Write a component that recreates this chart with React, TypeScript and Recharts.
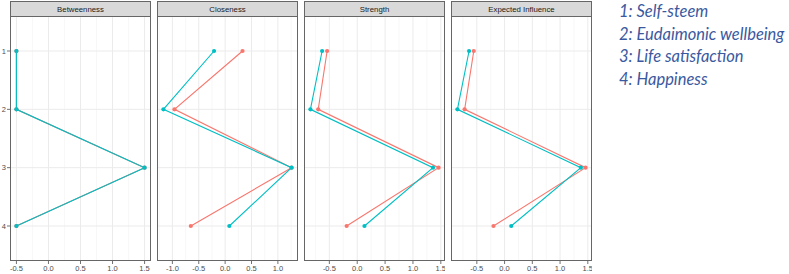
import React from "react";
import { ScatterChart, Scatter, XAxis, YAxis, ReferenceLine } from "recharts";

const nodes = [1, 2, 3, 4];
const legendLabels = ["1: Self-steem", "2: Eudaimonic wellbeing", "3: Life satisfaction", "4: Happiness"];
const measures = ["Betweenness", "Closeness", "Strength", "Expected Influence"];

const betweennessRed = [-0.5, -0.5, 1.5, -0.5];
const betweennessCyan = [-0.5, -0.5, 1.5, -0.5];
const closenessRed = [0.33, -0.96, 1.26, -0.65];
const closenessCyan = [-0.21, -1.17, 1.26, 0.08];
const strengthRed = [-0.54, -0.7, 1.46, -0.19];
const strengthCyan = [-0.63, -0.84, 1.36, 0.13];
const influenceRed = [-0.555, -0.72, 1.46, -0.2];
const influenceCyan = [-0.64, -0.85, 1.375, 0.12];

const betweennessTicks = [-0.5, 0, 0.5, 1, 1.5];
const closenessTicks = [-1, -0.5, 0, 0.5, 1];
const strengthTicks = [-0.5, 0, 0.5, 1, 1.5];
const influenceTicks = [-0.5, 0, 0.5, 1, 1.5];

const betweennessMinor = [-0.25, 0.25, 0.75, 1.25];
const closenessMinor = [-1.25, -0.75, -0.25, 0.25, 0.75, 1.25];
const strengthMinor = [-0.75, -0.25, 0.25, 0.75, 1.25];
const influenceMinor = [-0.75, -0.25, 0.25, 0.75, 1.25];

const betweennessDomain = [-0.6, 1.6];
const closenessDomain = [-1.2915, 1.3815];
const strengthDomain = [-0.955, 1.575];
const influenceDomain = [-0.9655, 1.5755];

const RED = "#F8766D";
const CYAN = "#00BFC4";
const FONT = "'Liberation Sans', Arial, sans-serif";

const toPoints = (vals: number[]) => vals.map((v, i) => ({ x: v, y: nodes[i] }));

const panels = [
  { title: measures[0], red: betweennessRed, cyan: betweennessCyan, ticks: betweennessTicks, minor: betweennessMinor, domain: betweennessDomain },
  { title: measures[1], red: closenessRed, cyan: closenessCyan, ticks: closenessTicks, minor: closenessMinor, domain: closenessDomain },
  { title: measures[2], red: strengthRed, cyan: strengthCyan, ticks: strengthTicks, minor: strengthMinor, domain: strengthDomain },
  { title: measures[3], red: influenceRed, cyan: influenceCyan, ticks: influenceTicks, minor: influenceMinor, domain: influenceDomain },
];

const PANEL_LEFTS = [10, 157, 304, 451];
const PANEL_W = 141;
const PLOT_TOP = 16;
const PLOT_BOTTOM = 261;
const Y_AXIS_W = 10;

const dot = (color: string, r: number) => (props: any) => (
  <circle cx={props.cx} cy={props.cy} r={r} fill={color} stroke="none" />
);

function Panel({ p, idx }: { p: any; idx: number }) {
  const left = PANEL_LEFTS[idx];
  const chartLeft = left - Y_AXIS_W;
  const chartH = 274 - PLOT_TOP;
  return (
    <>
      <div
        style={{
          position: "absolute",
          left: left,
          top: 1,
          width: PANEL_W,
          height: PLOT_TOP - 1,
          boxSizing: "border-box",
          background: "#D9D9D9",
          border: "1px solid #666",
          borderBottom: "none",
          fontFamily: FONT,
          fontSize: 7.8,
          color: "#1A1A1A",
          display: "flex",
          alignItems: "center",
          justifyContent: "center",
        }}
      >
        {p.title}
      </div>
      <div style={{ position: "absolute", left: chartLeft, top: PLOT_TOP }}>
        <ScatterChart width={PANEL_W + Y_AXIS_W} height={chartH} margin={{ top: 0, right: 0, bottom: 0, left: 0 }}>
          <XAxis
            type="number"
            dataKey="x"
            domain={p.domain}
            allowDataOverflow
            ticks={p.ticks}
            interval={0}
            height={chartH - (PLOT_BOTTOM - PLOT_TOP)}
            tickSize={3}
            tickMargin={2}
            tickFormatter={(v: number) => v.toFixed(1)}
            tick={{ fontSize: 7.5, fill: "#4D4D4D", fontFamily: FONT }}
            axisLine={false}
            tickLine={{ stroke: "#333", strokeWidth: 0.7 }}
          />
          <YAxis
            type="number"
            dataKey="y"
            domain={[0.4, 4.6]}
            reversed
            allowDataOverflow
            ticks={nodes}
            interval={0}
            width={Y_AXIS_W}
            tickSize={3}
            tickMargin={1}
            tick={idx === 0 ? { fontSize: 7.5, fill: "#4D4D4D", fontFamily: FONT } : false}
            axisLine={false}
            tickLine={idx === 0 ? { stroke: "#333", strokeWidth: 0.7 } : false}
          />
          {p.minor.map((m: number) => (
            <ReferenceLine key={"mn" + m} x={m} stroke="#F2F2F2" strokeWidth={0.6} />
          ))}
          {p.ticks.map((t: number) => (
            <ReferenceLine key={"mj" + t} x={t} stroke="#EBEBEB" strokeWidth={1} />
          ))}
          {nodes.map((n) => (
            <ReferenceLine key={"h" + n} y={n} stroke="#EBEBEB" strokeWidth={1} />
          ))}
          <Scatter
            data={toPoints(p.red)}
            line={{ stroke: RED, strokeWidth: 1.1 }}
            lineType="joint"
            shape={dot(RED, 2.1)}
            isAnimationActive={false}
          />
          <Scatter
            data={toPoints(p.cyan)}
            line={{ stroke: CYAN, strokeWidth: 1.1 }}
            lineType="joint"
            shape={dot(CYAN, 2.1)}
            isAnimationActive={false}
          />
        </ScatterChart>
      </div>
      <div
        style={{
          position: "absolute",
          left: left,
          top: PLOT_TOP,
          width: PANEL_W,
          height: PLOT_BOTTOM - PLOT_TOP,
          boxSizing: "border-box",
          border: "1px solid #666",
          pointerEvents: "none",
        }}
      />
    </>
  );
}

export default function App() {
  return (
    <div style={{ position: "absolute", left: 0, top: 0, width: 789, height: 274, background: "#fff", overflow: "hidden" }}>
      {panels.map((p, i) => (
        <Panel key={p.title} p={p} idx={i} />
      ))}
      <div
        style={{
          position: "absolute",
          left: 619,
          top: 0,
          fontFamily: "Lato, 'Open Sans', sans-serif",
          fontStyle: "italic",
          fontWeight: 400,
          fontSize: 16.5,
          lineHeight: "22.5px",
          color: "#3A59A0",
          whiteSpace: "nowrap",
        }}
      >
        {legendLabels.map((l) => (
          <div key={l}>{l}</div>
        ))}
      </div>
    </div>
  );
}
